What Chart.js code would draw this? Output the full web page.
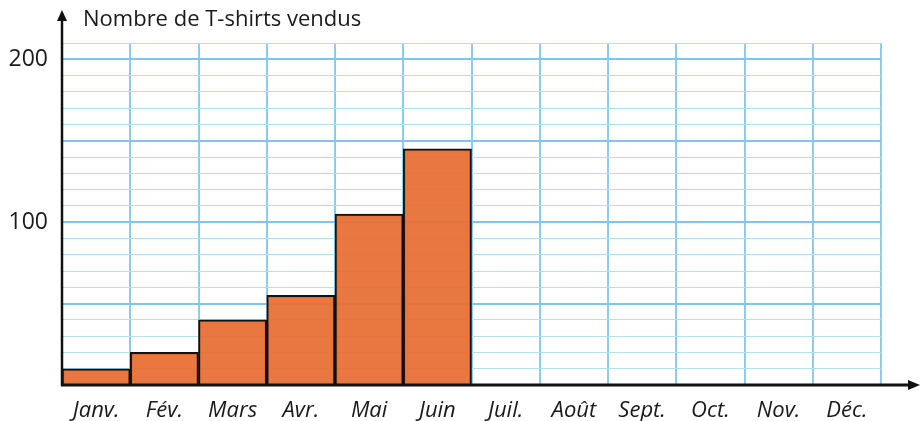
<!DOCTYPE html>
<html>
<head>
<meta charset="utf-8">
<script src="https://cdn.jsdelivr.net/npm/chart.js@4/dist/chart.umd.min.js"></script>
<style>
  html, body { margin: 0; padding: 0; background: #fff; }
  #wrap { width: 922px; height: 421px; position: relative; }
</style>
</head>
<body>
<div id="wrap"><canvas id="bar-chart"></canvas></div>
<script>
var months = ['Janv.', 'Fév.', 'Mars', 'Avr.', 'Mai', 'Juin', 'Juil.', 'Août', 'Sept.', 'Oct.', 'Nov.', 'Déc.'];
var sold = [10, 20, 40, 55, 105, 145, null, null, null, null, null, null];
var yTicks = [100, 200];
var yTitle = 'Nombre de T-shirts vendus';

// axes with arrows + title, drawn over the grid
var arrows = {
  id: 'arrows',
  afterDraw: function(chart) {
    var ctx = chart.ctx, a = chart.chartArea;
    ctx.save();
    ctx.strokeStyle = '#111';
    ctx.fillStyle = '#111';
    // y axis
    ctx.lineWidth = 2.5;
    ctx.beginPath();
    ctx.moveTo(a.left, a.bottom + 1);
    ctx.lineTo(a.left, 16);
    ctx.stroke();
    ctx.beginPath();
    ctx.moveTo(a.left, 10);
    ctx.lineTo(a.left - 5, 21);
    ctx.lineTo(a.left + 5, 21);
    ctx.closePath();
    ctx.fill();
    // x axis
    ctx.lineWidth = 3;
    ctx.beginPath();
    ctx.moveTo(a.left - 1, a.bottom);
    ctx.lineTo(912, a.bottom);
    ctx.stroke();
    ctx.beginPath();
    ctx.moveTo(920, a.bottom);
    ctx.lineTo(908, a.bottom - 5);
    ctx.lineTo(908, a.bottom + 5);
    ctx.closePath();
    ctx.fill();
    // title
    ctx.font = '22px "Open Sans"';
    ctx.textBaseline = 'middle';
    ctx.textAlign = 'left';
    ctx.fillStyle = '#1a1a1a';
    ctx.fillText(yTitle, 83, 20);
    ctx.restore();
  }
};

new Chart(document.getElementById('bar-chart'), {
  type: 'bar',
  data: {
    labels: months,
    datasets: [{
      data: sold,
      backgroundColor: 'rgba(232,110,52,0.94)',
      borderColor: '#111',
      borderWidth: 2,
      borderSkipped: 'bottom',
      categoryPercentage: 1,
      barPercentage: 1
    }]
  },
  options: {
    responsive: true,
    maintainAspectRatio: false,
    animation: false,
    layout: { padding: { top: 43, right: 41, left: 0, bottom: 0 } },
    plugins: { legend: { display: false }, tooltip: { enabled: false } },
    scales: {
      x: {
        border: { display: false },
        grid: {
          offset: true,
          color: '#8ccdef',
          lineWidth: 2,
          drawTicks: false
        },
        ticks: {
          color: '#1a1a1a',
          padding: 13,
          maxRotation: 0,
          autoSkip: false,
          font: { family: '"Open Sans"', size: 22, style: 'italic' }
        },
        afterFit: function(scale) { scale.height = 36; }
      },
      y: {
        min: 0,
        max: 210,
        border: { display: false },
        grid: {
          drawTicks: false,
          color: function(c) { return c.tick.value % 50 === 0 ? '#7fc6ea' : '#b3dff3'; },
          lineWidth: function(c) { return c.tick.value % 50 === 0 ? 2 : 1; }
        },
        ticks: {
          stepSize: 10,
          maxTicksLimit: 30,
          autoSkip: false,
          padding: 14,
          color: '#1a1a1a',
          font: { family: '"Open Sans"', size: 23 },
          callback: function(v) { return yTicks.indexOf(v) >= 0 ? v : ''; }
        },
        afterFit: function(scale) { scale.width = 62; }
      }
    }
  },
  plugins: [arrows]
});
</script>
</body>
</html>
